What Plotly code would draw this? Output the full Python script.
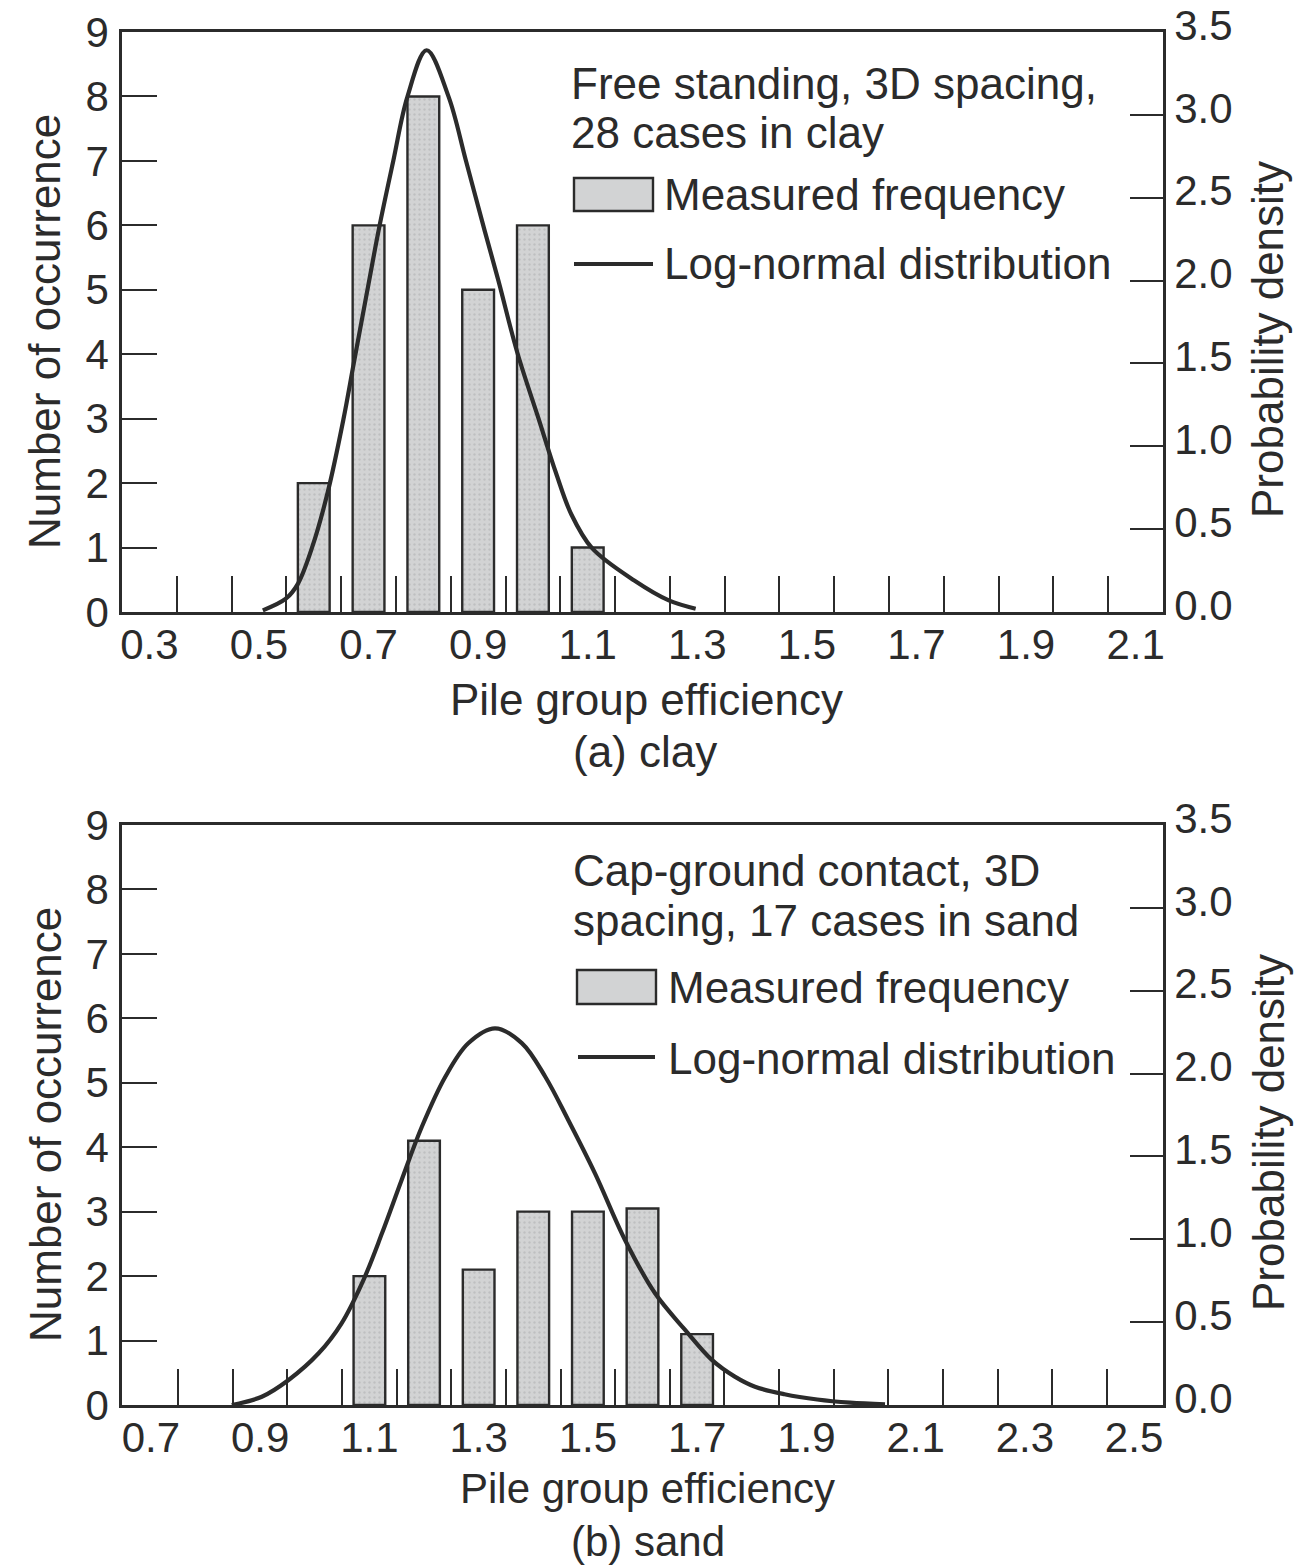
import plotly.graph_objects as go

# ---------------- data ----------------
# (a) clay
a_bin_centres = [0.6, 0.7, 0.8, 0.9, 1.0, 1.1]
a_counts = [2, 6, 8, 5, 6, 1]
a_curve_x = [0.507, 0.549, 0.571, 0.598, 0.626, 0.654, 0.673, 0.700, 0.720, 0.745, 0.771,
             0.806, 0.846, 0.878, 0.912, 0.937, 0.972, 1.010, 1.042, 1.070, 1.108, 1.185, 1.248, 1.297]
a_curve_d = [0.01, 0.08, 0.17, 0.40, 0.73, 1.16, 1.50, 1.98, 2.33, 2.72, 3.11,
             3.39, 3.11, 2.72, 2.30, 2.00, 1.56, 1.17, 0.84, 0.59, 0.385, 0.19, 0.07, 0.02]
a_xtick_labels = [0.3, 0.5, 0.7, 0.9, 1.1, 1.3, 1.5, 1.7, 1.9, 2.1]
a_xtick_marks = [0.35, 0.45, 0.55, 0.65, 0.75, 0.85, 0.95, 1.05, 1.15, 1.25,
                 1.35, 1.45, 1.55, 1.65, 1.75, 1.85, 1.95, 2.05]

# (b) sand
b_bin_centres = [1.1, 1.2, 1.3, 1.4, 1.5, 1.6, 1.7]
b_counts = [2, 4.1, 2.1, 3, 3, 3.05, 1.1]
b_curve_x = [0.848, 0.903, 0.952, 1.007, 1.049, 1.089, 1.123, 1.159, 1.196, 1.239, 1.281,
             1.330, 1.379, 1.422, 1.464, 1.513, 1.568, 1.623, 1.678, 1.727, 1.769, 1.806,
             1.860, 1.920, 1.980, 2.044]
b_curve_d = [0.0, 0.05, 0.151, 0.312, 0.493, 0.754, 1.036, 1.358, 1.679, 1.981, 2.183,
             2.273, 2.184, 1.981, 1.720, 1.398, 0.996, 0.674, 0.453, 0.272, 0.171, 0.11,
             0.065, 0.033, 0.014, 0.004]
b_xtick_labels = [0.7, 0.9, 1.1, 1.3, 1.5, 1.7, 1.9, 2.1, 2.3, 2.5]
b_xtick_marks = [0.75, 0.85, 0.95, 1.05, 1.15, 1.25, 1.35, 1.45, 1.55, 1.65,
                 1.75, 1.85, 1.95, 2.05, 2.15, 2.25, 2.35, 2.45]

count_ticks = [0, 1, 2, 3, 4, 5, 6, 7, 8, 9]
density_ticks = [0.0, 0.5, 1.0, 1.5, 2.0, 2.5, 3.0, 3.5]

# ---------------- styling ----------------
W, H = 1296, 1567
INK = "#2b2b2b"
BAR_FILL = "#d2d3d4"
FONT = "Liberation Sans, Arial, sans-serif"
TICK_SIZE = 42
TEXT_SIZE = 44
CURVE_W = 4.2


def px(x):
    return x / W


def py(y):
    return 1 - y / H


fig = go.Figure()

bar_style = dict(color=BAR_FILL, line=dict(color=INK, width=2.4),
                 pattern=dict(shape=".", size=5, solidity=0.18, fgcolor="#a9abad", bgcolor=BAR_FILL))

fig.add_trace(go.Bar(x=a_bin_centres, y=a_counts, width=0.058, marker=bar_style,
                     xaxis="x", yaxis="y", showlegend=False))
fig.add_trace(go.Scatter(x=a_curve_x, y=a_curve_d, mode="lines",
                         line=dict(color=INK, width=CURVE_W, shape="spline", smoothing=1.0),
                         xaxis="x", yaxis="y2", showlegend=False))
fig.add_trace(go.Bar(x=b_bin_centres, y=b_counts, width=0.058, marker=bar_style,
                     xaxis="x2", yaxis="y3", showlegend=False))
fig.add_trace(go.Scatter(x=b_curve_x, y=b_curve_d, mode="lines",
                         line=dict(color=INK, width=CURVE_W, shape="spline", smoothing=1.0),
                         xaxis="x2", yaxis="y4", showlegend=False))

x_dom = [px(122), px(1163)]
a_dom = [py(612), py(32)]
b_dom = [py(1405), py(825)]

tickfont = dict(family=FONT, size=TICK_SIZE, color=INK)


def xaxis(rng, labels, marks, anchor):
    return dict(domain=x_dom, range=rng, anchor=anchor,
                tickmode="array", tickvals=labels, ticktext=[f"{v:.1f}" for v in labels],
                ticks="", tickfont=tickfont, ticklabelstandoff=-6,
                minor=dict(tickmode="array", tickvals=marks, ticks="inside", ticklen=36,
                           tickwidth=2.4, tickcolor=INK, showgrid=False),
                showline=True, linecolor=INK, linewidth=2.6, mirror=True,
                showgrid=False, zeroline=False, fixedrange=True)


def ycount(dom, anchor):
    return dict(domain=dom, range=[0, 9], anchor=anchor, tickmode="array",
                tickvals=count_ticks, ticks="inside", ticklen=35, tickwidth=2.4,
                tickcolor=INK, tickfont=tickfont, ticklabelstandoff=2,
                showline=True, linecolor=INK, linewidth=2.6,
                showgrid=False, zeroline=False, fixedrange=True)


def ydens(overlay, anchor):
    return dict(overlaying=overlay, side="right", range=[0, 3.5], anchor=anchor,
                tickmode="array", tickvals=density_ticks, tickformat=".1f",
                ticks="inside", ticklen=33, tickwidth=2.4, tickcolor=INK,
                tickfont=tickfont, ticklabelstandoff=0, ticklabelshift=-7,
                showline=True, linecolor=INK, linewidth=2.6,
                showgrid=False, zeroline=False, fixedrange=True)


fig.update_layout(
    width=W, height=H,
    margin=dict(l=0, r=0, t=0, b=0, autoexpand=False),
    paper_bgcolor="white", plot_bgcolor="white",
    font=dict(family=FONT, color=INK),
    barmode="overlay",
    xaxis=xaxis([0.25, 2.15], a_xtick_labels, a_xtick_marks, "y"),
    yaxis=ycount(a_dom, "x"),
    yaxis2=ydens("y", "x"),
    xaxis2=xaxis([0.647, 2.553], b_xtick_labels, b_xtick_marks, "y3"),
    yaxis3=ycount(b_dom, "x2"),
    yaxis4=ydens("y3", "x2"),
)

annotations = []
shapes = []


def text(x, y, s, anchor="left", angle=0, size=TEXT_SIZE):
    annotations.append(dict(x=px(x), y=py(y), xref="paper", yref="paper", text=s,
                            showarrow=False, xanchor=anchor, yanchor="middle",
                            textangle=angle, font=dict(family=FONT, size=size, color=INK)))


# axis titles and captions
for top in (0, 793):
    text(45, 332 + top, "Number of occurrence", anchor="center", angle=-90)
    text(1268, 340 + top, "Probability density", anchor="center", angle=-90)
text(646, 699, "Pile group efficiency", anchor="center")
text(645, 751, "(a) clay", anchor="center")
text(647, 1488, "Pile group efficiency", anchor="center", size=42)
text(648, 1541, "(b) sand", anchor="center", size=42)

# legend (a)
text(569, 83, "Free standing, 3D spacing,")
text(569, 132, "28 cases in clay")
shapes.append(dict(type="rect", xref="paper", yref="paper", x0=px(574), x1=px(653),
                   y0=py(211), y1=py(178), fillcolor=BAR_FILL, line=dict(color=INK, width=2.4)))
text(662, 194, "Measured frequency")
shapes.append(dict(type="line", xref="paper", yref="paper", x0=px(574), x1=px(653),
                   y0=py(264), y1=py(264), line=dict(color=INK, width=CURVE_W)))
text(662, 264, "Log-normal distribution")

# legend (b)
text(571, 870, "Cap-ground contact, 3D")
text(571, 920, "spacing, 17 cases in sand")
shapes.append(dict(type="rect", xref="paper", yref="paper", x0=px(577), x1=px(656),
                   y0=py(1004), y1=py(970), fillcolor=BAR_FILL, line=dict(color=INK, width=2.4)))
text(666, 987, "Measured frequency")
shapes.append(dict(type="line", xref="paper", yref="paper", x0=px(578), x1=px(655),
                   y0=py(1057), y1=py(1057), line=dict(color=INK, width=CURVE_W)))
text(666, 1058, "Log-normal distribution")

fig.update_layout(annotations=annotations, shapes=shapes)

fig.write_html("out.html")
